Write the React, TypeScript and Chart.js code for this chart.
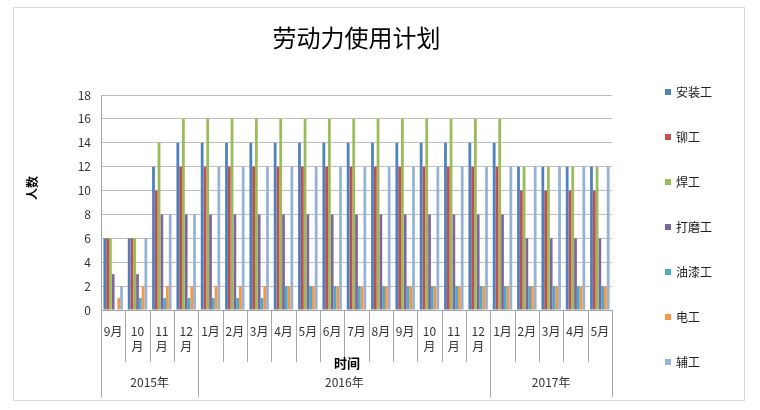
import React, { useEffect, useRef } from "react";
import { Chart, registerables } from "chart.js";

Chart.register(...registerables);

const FONT = '"Noto Sans CJK SC", "Noto Sans", sans-serif';

const monthLabels: string[][] = [
  ["9月"], ["10", "月"], ["11", "月"], ["12", "月"],
  ["1月"], ["2月"], ["3月"], ["4月"], ["5月"], ["6月"], ["7月"], ["8月"], ["9月"], ["10", "月"], ["11", "月"], ["12", "月"],
  ["1月"], ["2月"], ["3月"], ["4月"], ["5月"],
];

const yearLabels = ["2015年", "2016年", "2017年"];
const yearSpans = [4, 12, 5];

const seriesNames = ["安装工", "铆工", "焊工", "打磨工", "油漆工", "电工", "辅工"];
const seriesColors = ["#4F81BD", "#C0504D", "#9BBB59", "#8064A2", "#4BACC6", "#F79646", "#95B3D7"];

const installers = [6, 6, 12, 14, 14, 14, 14, 14, 14, 14, 14, 14, 14, 14, 14, 14, 14, 12, 12, 12, 12];
const riveters = [6, 6, 10, 12, 12, 12, 12, 12, 12, 12, 12, 12, 12, 12, 12, 12, 12, 10, 10, 10, 10];
const welders = [6, 6, 14, 16, 16, 16, 16, 16, 16, 16, 16, 16, 16, 16, 16, 16, 16, 12, 12, 12, 12];
const grinders = [3, 3, 8, 8, 8, 8, 8, 8, 8, 8, 8, 8, 8, 8, 8, 8, 8, 6, 6, 6, 6];
const painters = [0, 1, 1, 1, 1, 1, 1, 2, 2, 2, 2, 2, 2, 2, 2, 2, 2, 2, 2, 2, 2];
const electricians = [1, 2, 2, 2, 2, 2, 2, 2, 2, 2, 2, 2, 2, 2, 2, 2, 2, 2, 2, 2, 2];
const helpers = [2, 6, 8, 8, 12, 12, 12, 12, 12, 12, 12, 12, 12, 12, 12, 12, 12, 12, 12, 12, 12];

const seriesValues = [installers, riveters, welders, grinders, painters, electricians, helpers];

const titleText = "劳动力使用计划";
const yTitle = "人数";
const xTitle = "时间";

const decor = {
  id: "decor",
  beforeDraw(chart: any) {
    const ctx = chart.ctx;
    ctx.save();
    ctx.fillStyle = "#ffffff";
    ctx.fillRect(0, 0, chart.width, chart.height);
    ctx.strokeStyle = "#d9d9d9";
    ctx.lineWidth = 1;
    ctx.strokeRect(13.5, 7.5, 731, 393);
    ctx.restore();
  },
  afterDraw(chart: any) {
    const { ctx, chartArea } = chart;
    const { left, right, bottom } = chartArea;
    const n = monthLabels.length;
    const step = (right - left) / n;
    ctx.save();
    // separators below axis
    ctx.strokeStyle = "#a6a6a6";
    ctx.lineWidth = 1;
    const yearBounds = new Set<number>();
    let acc = 0;
    yearBounds.add(0);
    yearSpans.forEach((s) => {
      acc += s;
      yearBounds.add(acc);
    });
    for (let i = 0; i <= n; i++) {
      const xp = Math.round(left + i * step) + 0.5;
      const yEnd = yearBounds.has(i) ? bottom + 87 : bottom + 52;
      ctx.beginPath();
      ctx.moveTo(xp, bottom);
      ctx.lineTo(xp, yEnd);
      ctx.stroke();
    }
    // year labels
    ctx.fillStyle = "#333333";
    ctx.font = `12px ${FONT}`;
    ctx.textAlign = "center";
    ctx.textBaseline = "middle";
    let start = 0;
    yearLabels.forEach((lab, k) => {
      const end = start + yearSpans[k];
      const cx = left + ((start + end) / 2) * step;
      ctx.fillText(lab, cx, bottom + 72);
      start = end;
    });
    // x title
    ctx.fillStyle = "#000000";
    ctx.font = `bold 13px ${FONT}`;
    ctx.fillText(xTitle, 347, bottom + 53);
    // chart title
    ctx.font = `24px ${FONT}`;
    ctx.fillText(titleText, (left + right) / 2, 38);
    // y title
    ctx.save();
    ctx.translate(32, 188);
    ctx.rotate(-Math.PI / 2);
    ctx.font = `bold 12px ${FONT}`;
    ctx.fillText(yTitle, 0, 0);
    ctx.restore();
    // legend
    ctx.textAlign = "left";
    ctx.font = `12px ${FONT}`;
    chart.data.datasets.forEach((ds: any, i: number) => {
      const cy = 92 + i * 45;
      ctx.fillStyle = ds.backgroundColor;
      ctx.fillRect(665, cy - 3, 6, 6);
      ctx.fillStyle = "#222222";
      ctx.fillText(ds.label, 676, cy);
    });
    ctx.restore();
  },
};

export default function App() {
  const ref = useRef<HTMLCanvasElement | null>(null);
  useEffect(() => {
    if (!ref.current) return;
    const chart = new Chart(ref.current, {
      type: "bar",
      data: {
        labels: monthLabels,
        datasets: seriesNames.map((name, i) => ({
          label: name,
          data: seriesValues[i],
          backgroundColor: seriesColors[i],
          borderWidth: 0,
          categoryPercentage: 0.8,
          barPercentage: 1.0,
        })),
      },
      options: {
        responsive: false,
        animation: false,
        devicePixelRatio: 1,
        layout: { padding: { left: 13, top: 95, right: 148, bottom: 0 } },
        plugins: {
          legend: { display: false },
          title: { display: false },
          tooltip: { enabled: false },
        },
        scales: {
          x: {
            grid: { display: false, drawTicks: false },
            border: { display: true, color: "#a6a6a6" },
            ticks: {
              autoSkip: false,
              maxRotation: 0,
              minRotation: 0,
              padding: 14,
              color: "#333333",
              font: { family: FONT, size: 12, lineHeight: 1.25 },
            },
            afterFit: (s: any) => {
              s.height = 100;
            },
          },
          y: {
            min: 0,
            max: 18,
            ticks: {
              stepSize: 2,
              padding: 10,
              color: "#333333",
              font: { family: FONT, size: 12 },
            },
            grid: { color: "#bfbfbf", drawTicks: false },
            border: { display: true, color: "#a6a6a6" },
            afterFit: (s: any) => {
              s.width = 88;
            },
          },
        },
      },
      plugins: [decor],
    } as any);
    return () => chart.destroy();
  }, []);
  return (
    <div style={{ position: "absolute", left: 0, top: 0, width: 760, height: 410 }}>
      <canvas ref={ref} width={760} height={410} />
    </div>
  );
}
